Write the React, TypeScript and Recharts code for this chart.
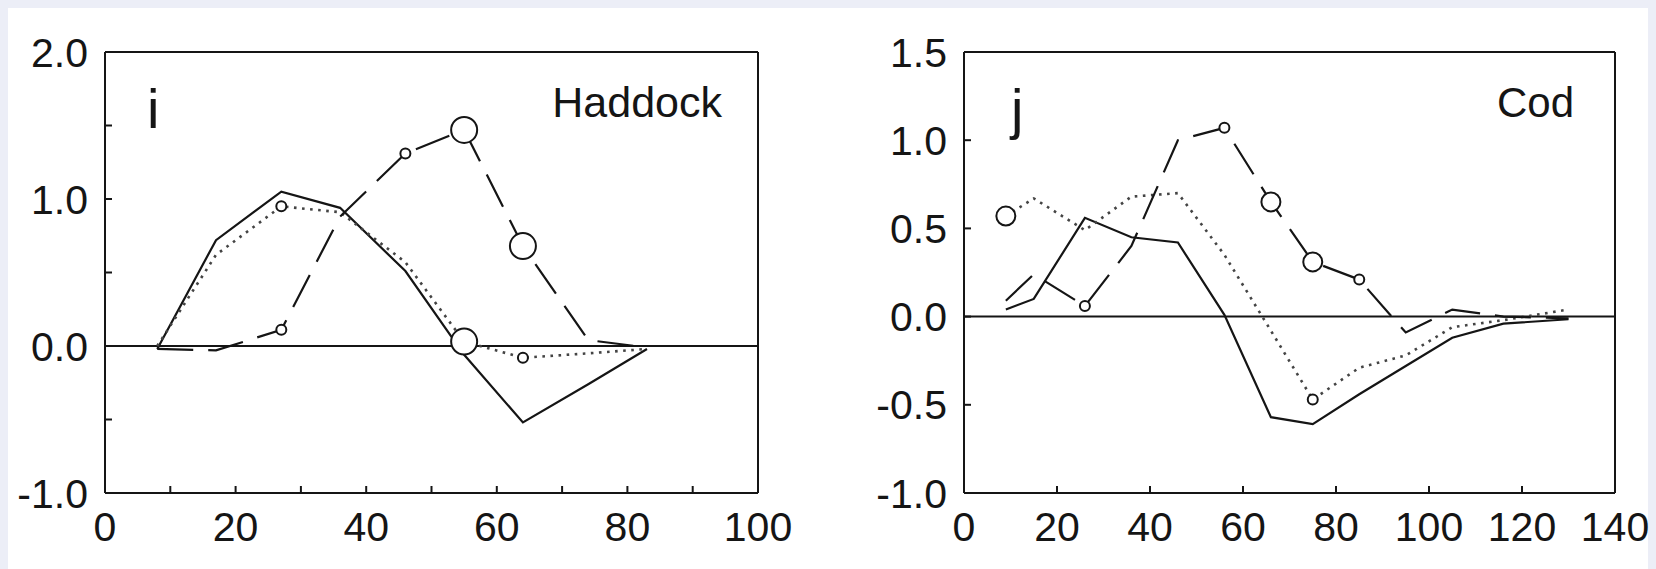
import { LineChart, Line, XAxis, YAxis, CartesianGrid } from "recharts";

// ages (x) and effects for each panel
const haddockAge = [8, 17, 27, 36, 46, 55, 64, 74, 83];
const haddockSolid = [-0.02, 0.72, 1.05, 0.94, 0.51, -0.06, -0.52, -0.26, -0.02];
const haddockDotted = [0.0, 0.62, 0.95, 0.91, 0.57, 0.03, -0.08, -0.05, -0.02];
const haddockDashed = [-0.02, -0.03, 0.11, 0.88, 1.31, 1.47, 0.68, 0.04, -0.01];
// circle class per point: 0 none, 1 small, 2 medium, 3 large
const haddockDottedMark = [0, 0, 1, 0, 0, 3, 1, 0, 0];
const haddockDashedMark = [0, 0, 1, 0, 1, 3, 3, 0, 0];

const codAge = [9, 15, 26, 36, 46, 56, 66, 75, 85, 95, 105, 116, 130];
const codSolid = [0.04, 0.1, 0.56, 0.45, 0.42, 0.01, -0.57, -0.61, -0.44, -0.28, -0.12, -0.04, -0.015];
const codDotted = [0.57, 0.67, 0.49, 0.68, 0.7, 0.35, -0.08, -0.47, -0.29, -0.22, -0.06, -0.02, 0.04];
const codDashed = [0.09, 0.24, 0.06, 0.4, 1.0, 1.07, 0.65, 0.31, 0.21, -0.09, 0.04, 0.0, -0.01];
const codDottedMark = [2, 0, 0, 0, 0, 0, 0, 1, 0, 0, 0, 0, 0];
const codDashedMark = [0, 0, 1, 0, 0, 1, 2, 2, 1, 0, 0, 0, 0];

const haddockXTicks = [0, 10, 20, 30, 40, 50, 60, 70, 80, 90, 100];
const haddockYTicks = [-1, -0.5, 0, 0.5, 1, 1.5, 2];
const codXTicks = [0, 20, 40, 60, 80, 100, 120, 140];
const codYTicks = [-1, -0.5, 0, 0.5, 1, 1.5];

const INK = "#151515";
const FONT = "'Liberation Sans', Arial, Helvetica, sans-serif";
const RADIUS = [0, 5, 9.5, 13];

const ring = (marks: number[]) => (p: any) => {
  const m = marks[p.index];
  if (!m) return <g key={`d${p.index}`} />;
  return (
    <circle
      key={`d${p.index}`}
      cx={p.cx}
      cy={p.cy}
      r={RADIUS[m]}
      fill="#fff"
      stroke={INK}
      strokeWidth={2}
    />
  );
};

interface PanelProps {
  left: number;
  width: number;
  marginLeft: number;
  marginRight: number;
  age: number[];
  solid: number[];
  dotted: number[];
  dashed: number[];
  dottedMark: number[];
  dashedMark: number[];
  xDomain: [number, number];
  yDomain: [number, number];
  xTicks: number[];
  yTicks: number[];
  xLabel: (v: number) => string;
  yLabel: (v: number) => string;
}

function Panel(p: PanelProps) {
  const data = p.age.map((x, i) => ({
    x,
    solid: p.solid[i],
    dotted: p.dotted[i],
    dashed: p.dashed[i],
  }));
  const tickFont = { fill: INK, fontSize: 41, fontFamily: FONT };
  const lineStyle = { stroke: INK, strokeWidth: 2 };

  // axes are 1px thick, so margins are 1px less than the plot box edges
  return (
    <div style={{ position: "absolute", left: p.left, top: 0 }}>
      <LineChart
        width={p.width}
        height={569}
        data={data}
        margin={{ top: 51, right: p.marginRight - 1, bottom: 75, left: p.marginLeft - 1 }}
      >
        <CartesianGrid
          vertical={false}
          horizontalValues={[0]}
          stroke={INK}
          strokeWidth={2}
        />
        <XAxis
          dataKey="x"
          type="number"
          domain={p.xDomain}
          ticks={p.xTicks}
          interval={0}
          height={1}
          allowDataOverflow
          axisLine={lineStyle}
          tickLine={lineStyle}
          tickSize={-7}
          tickMargin={26}
          tick={tickFont}
          tickFormatter={p.xLabel}
        />
        <XAxis
          xAxisId="top"
          orientation="top"
          type="number"
          domain={p.xDomain}
          ticks={p.xTicks}
          interval={0}
          height={1}
          allowDataOverflow
          axisLine={lineStyle}
          tickLine={lineStyle}
          tickSize={-7}
          tick={false}
        />
        <YAxis
          type="number"
          domain={p.yDomain}
          ticks={p.yTicks}
          interval={0}
          width={1}
          allowDataOverflow
          axisLine={lineStyle}
          tickLine={lineStyle}
          tickSize={-7}
          tickMargin={24}
          tick={tickFont}
          tickFormatter={p.yLabel}
        />
        <YAxis
          yAxisId="right"
          orientation="right"
          type="number"
          domain={p.yDomain}
          ticks={p.yTicks}
          interval={0}
          width={1}
          allowDataOverflow
          axisLine={lineStyle}
          tickLine={lineStyle}
          tickSize={-7}
          tick={false}
        />
        <Line
          dataKey="solid"
          type="linear"
          stroke={INK}
          strokeWidth={2.2}
          dot={false}
          isAnimationActive={false}
        />
        <Line
          dataKey="dotted"
          type="linear"
          stroke="#444"
          strokeWidth={2.6}
          strokeDasharray="2.6 5.5"
          dot={ring(p.dottedMark)}
          isAnimationActive={false}
        />
        <Line
          dataKey="dashed"
          type="linear"
          stroke={INK}
          strokeWidth={2.2}
          strokeDasharray="36 15"
          dot={ring(p.dashedMark)}
          isAnimationActive={false}
        />
      </LineChart>
    </div>
  );
}

export default function App() {
  return (
    <div
      style={{
        position: "fixed",
        left: 0,
        top: 0,
        width: 1656,
        height: 569,
        background: "#eceef7",
        overflow: "hidden",
      }}
    >
      <div
        style={{
          position: "absolute",
          left: 8,
          top: 8,
          width: 1640,
          height: 561,
          background: "#fff",
        }}
      />
      <Panel
        left={0}
        width={830}
        marginLeft={105}
        marginRight={72}
        age={haddockAge}
        solid={haddockSolid}
        dotted={haddockDotted}
        dashed={haddockDashed}
        dottedMark={haddockDottedMark}
        dashedMark={haddockDashedMark}
        xDomain={[0, 100]}
        yDomain={[-1, 2]}
        xTicks={haddockXTicks}
        yTicks={haddockYTicks}
        xLabel={(v) => (v % 20 === 0 ? String(v) : "")}
        yLabel={(v) => (Number.isInteger(v) ? v.toFixed(1) : "")}
      />
      <Panel
        left={830}
        width={826}
        marginLeft={134}
        marginRight={41}
        age={codAge}
        solid={codSolid}
        dotted={codDotted}
        dashed={codDashed}
        dottedMark={codDottedMark}
        dashedMark={codDashedMark}
        xDomain={[0, 140]}
        yDomain={[-1, 1.5]}
        xTicks={codXTicks}
        yTicks={codYTicks}
        xLabel={(v) => String(v)}
        yLabel={(v) => v.toFixed(1)}
      />
      <svg
        width={1656}
        height={569}
        style={{ position: "absolute", left: 0, top: 0, pointerEvents: "none" }}
        fontFamily={FONT}
        fill={INK}
      >
        <text x={147} y={128} fontSize={56}>i</text>
        <text x={722} y={117} fontSize={43} textAnchor="end">Haddock</text>
        <text x={1011} y={128} fontSize={56}>j</text>
        <text x={1574} y={117} fontSize={42} textAnchor="end">Cod</text>
      </svg>
    </div>
  );
}
